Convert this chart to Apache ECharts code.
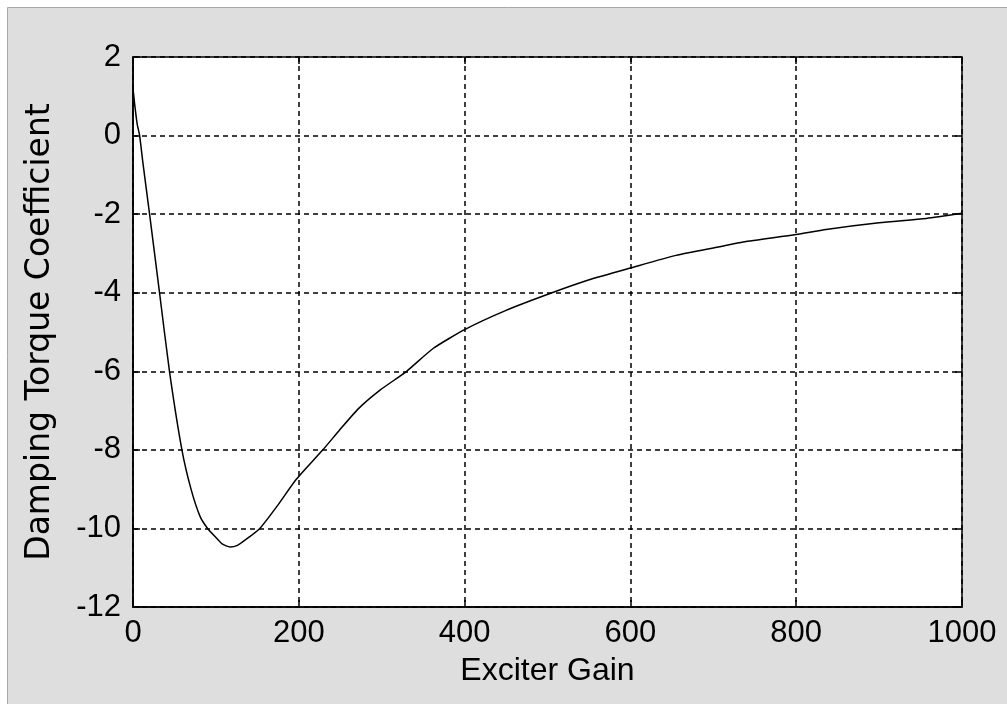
<!DOCTYPE html>
<html>
<head>
<meta charset="utf-8">
<script src="https://cdn.jsdelivr.net/npm/echarts@6/dist/echarts.min.js"></script>
<style>
  html, body { margin: 0; padding: 0; background: #ffffff; }
  #chart { width: 1007px; height: 704px; }
</style>
</head>
<body>
<div id="chart"></div>
<script>
// Exciter gain (x) and damping torque coefficient (y)
const gain = [0, 2, 5, 8, 12, 20, 32, 44, 59, 70, 81, 90, 101, 108, 117, 126, 135, 153, 175, 197,
  229, 249, 272, 298, 330, 362, 400, 450, 503, 555, 600, 655, 708, 736, 800, 836, 900, 957, 1000];
const damping = [1.2, 0.8, 0.3, 0.0, -0.7, -2.0, -4.0, -6.0, -8.0, -9.0, -9.7, -10.0, -10.25, -10.4, -10.47, -10.43, -10.3, -10.0, -9.4, -8.75,
  -8.0, -7.5, -6.95, -6.48, -6.0, -5.42, -4.94, -4.45, -4.02, -3.64, -3.37, -3.05, -2.83, -2.71, -2.52, -2.39, -2.22, -2.11, -1.98];

const xTicks = [0, 200, 400, 600, 800, 1000];
const yTicks = [-12, -10, -8, -6, -4, -2, 0, 2];

const xLabel = 'Exciter Gain';
const yLabel = 'Damping Torque Coefficient';

const FONT = '"Liberation Sans", Arial, sans-serif';
const WIDE_FONT = '"DejaVu Sans", sans-serif';

const chart = echarts.init(document.getElementById('chart'), null, { renderer: 'canvas' });

const gridLine = { show: true, lineStyle: { color: '#000', width: 1.5, type: [5, 4] } };
const tickIn = { show: true, inside: true, length: 7, lineStyle: { color: '#000', width: 1.5 } };
const plainNumber = v => String(v);

chart.setOption({
  backgroundColor: '#ffffff',
  animation: false,
  graphic: [{
    type: 'rect',
    z: -10,
    shape: { x: 7.5, y: 7.5, width: 1010, height: 710 },
    style: { fill: '#dedede', stroke: '#a8a8a8', lineWidth: 1 }
  }],
  grid: {
    left: 133, right: 45, top: 57, bottom: 97,
    show: true, backgroundColor: '#ffffff', borderColor: '#000', borderWidth: 1.5
  },
  xAxis: [{
    type: 'value',
    min: xTicks[0], max: xTicks[xTicks.length - 1], interval: 200,
    position: 'bottom',
    axisLine: { show: true, onZero: false, lineStyle: { color: '#000', width: 1.5 } },
    axisTick: tickIn,
    splitLine: gridLine,
    axisLabel: { color: '#000', fontFamily: FONT, fontSize: 31, margin: 11, formatter: plainNumber },
    name: xLabel, nameLocation: 'middle', nameGap: 48,
    nameTextStyle: { color: '#000', fontFamily: FONT, fontSize: 32 }
  }, {
    type: 'value',
    min: xTicks[0], max: xTicks[xTicks.length - 1], interval: 200,
    position: 'top',
    axisLine: { show: false, onZero: false },
    axisTick: tickIn,
    splitLine: { show: false },
    axisLabel: { show: false }
  }],
  yAxis: [{
    type: 'value',
    min: yTicks[0], max: yTicks[yTicks.length - 1], interval: 2,
    position: 'left',
    axisLine: { show: true, onZero: false, lineStyle: { color: '#000', width: 1.5 } },
    axisTick: tickIn,
    splitLine: gridLine,
    axisLabel: { color: '#000', fontFamily: FONT, fontSize: 31, margin: 12, formatter: plainNumber },
    name: yLabel, nameLocation: 'middle', nameGap: 76,
    nameTextStyle: { color: '#000', fontFamily: WIDE_FONT, fontSize: 33 }
  }, {
    type: 'value',
    min: yTicks[0], max: yTicks[yTicks.length - 1], interval: 2,
    position: 'right',
    axisLine: { show: false, onZero: false },
    axisTick: tickIn,
    splitLine: { show: false },
    axisLabel: { show: false }
  }],
  series: [{
    type: 'line',
    xAxisIndex: 0, yAxisIndex: 0,
    data: gain.map((g, i) => [g, damping[i]]),
    showSymbol: false,
    smooth: 0.2,
    lineStyle: { color: '#000', width: 1.5 }
  }]
});
</script>
</body>
</html>
